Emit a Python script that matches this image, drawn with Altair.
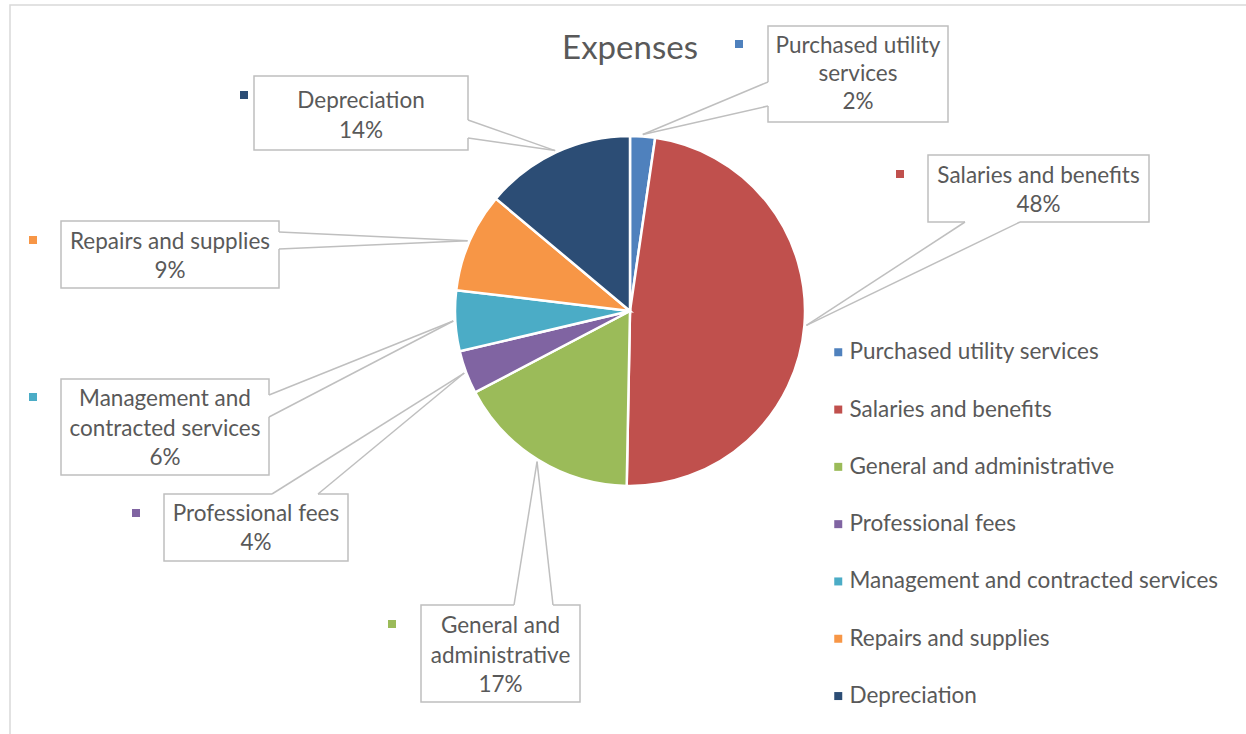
import math
import altair as alt
import pandas as pd

W, H = 1246, 734

# ---------------- data ----------------
categories = [
    "Purchased utility services",
    "Salaries and benefits",
    "General and administrative",
    "Professional fees",
    "Management and contracted services",
    "Repairs and supplies",
    "Depreciation",
]
shares = [2.3, 48.0, 17.0, 4.0, 5.6, 9.2, 13.9]
colors = ["#4F81BD", "#C0504D", "#9BBB59", "#8064A2", "#4BACC6", "#F79646", "#2C4D75"]

# ---------------- layout (positions only) ----------------
FONT = "Lato"
FS = 22.5
TXT = "#595959"
LINE = "#BFBFBF"
CX, CY, R = 630, 311, 175

# callout boxes: box (x0, y0, x1, y1), wedge base points, marker centre, text lines, line y's
callouts = {
    "Purchased utility services": dict(box=(768, 26, 948, 122), base=((768, 82), (768, 106)),
                                       marker=(739, 44), lines=["Purchased utility", "services"],
                                       ty=[46, 74, 102]),
    "Salaries and benefits": dict(box=(928, 155, 1149, 222), base=((965, 222), (1020, 222)),
                                  marker=(900, 174), lines=["Salaries and benefits"],
                                  ty=[176, 205]),
    "General and administrative": dict(box=(421, 605, 580, 702), base=((514, 605), (553, 605)),
                                       marker=(392, 624), lines=["General and", "administrative"],
                                       ty=[626, 656, 685]),
    "Professional fees": dict(box=(164, 494, 348, 561), base=((272, 494), (318, 494)),
                              marker=(136, 513), lines=["Professional fees"],
                              ty=[514, 543]),
    "Management and contracted services": dict(box=(61, 379, 269, 475), base=((269, 395), (269, 417)),
                                               marker=(33, 397), lines=["Management and", "contracted services"],
                                               ty=[399, 429, 458]),
    "Repairs and supplies": dict(box=(61, 221, 279, 288), base=((279, 232), (279, 249)),
                                 marker=(33, 240), lines=["Repairs and supplies"],
                                 ty=[242, 271]),
    "Depreciation": dict(box=(254, 76, 468, 150), base=((468, 120), (468, 138)),
                         marker=(244, 95), lines=["Depreciation"],
                         ty=[101, 131]),
}

# ---------------- derived tables ----------------
total = sum(shares)
pie_df = pd.DataFrame({"category": categories, "share": shares, "idx": range(len(categories))})

box_rows, cover_rows, wedge_rows, marker_rows, text_rows = [], [], [], [], []
cum = 0.0
for i, (cat, s) in enumerate(zip(categories, shares)):
    mid = (cum + s / 2) / total * 2 * math.pi
    cum += s
    tipx = CX + (R + 2) * math.sin(mid)
    tipy = CY - (R + 2) * math.cos(mid)
    c = callouts[cat]
    x0, y0, x1, y1 = c["box"]
    box_rows.append(dict(x=x0, x2=x1, y=y0, y2=y1))
    (ax, ay), (bx, by) = c["base"]
    cover_rows.append(dict(x=ax, y=ay, x2=bx, y2=by))
    wedge_rows.append(dict(x=ax, y=ay, x2=tipx, y2=tipy))
    wedge_rows.append(dict(x=bx, y=by, x2=tipx, y2=tipy))
    marker_rows.append(dict(x=c["marker"][0], y=c["marker"][1], category=cat))
    pct = f"{round(s / total * 100):.0f}%"
    for line, yy in zip(c["lines"] + [pct], c["ty"]):
        text_rows.append(dict(x=(x0 + x1) / 2, y=yy, t=line))

xs = alt.Scale(domain=[0, W], range=[0, W])
ys = alt.Scale(domain=[0, H], range=[0, H])
X = lambda f: alt.X(f, type="quantitative", scale=xs, axis=None)
Y = lambda f: alt.Y(f, type="quantitative", scale=ys, axis=None)

color_scale = alt.Scale(domain=categories, range=colors)

border = alt.Chart(pd.DataFrame({"a": [0]})).mark_rect(
    fill="white", stroke="#D9D9D9", strokeWidth=1.5
).encode(x=alt.value(10), x2=alt.value(1300), y=alt.value(5), y2=alt.value(800))

pie = alt.Chart(pie_df).mark_arc(outerRadius=R, stroke="white", strokeWidth=2.5).encode(
    theta=alt.Theta("share:Q", stack=True),
    order=alt.Order("idx:Q"),
    color=alt.Color(
        "category:N", scale=color_scale, sort=categories,
        legend=alt.Legend(
            title=None, orient="none", legendX=827, legendY=341,
            symbolType="square", symbolSize=64, symbolStrokeWidth=0,
            labelFont=FONT, labelFontSize=FS, labelColor=TXT, labelOffset=0,
            rowPadding=56.8 - FS, padding=0, labelLimit=500,
        ),
    ),
    x=alt.value(CX), y=alt.value(CY),
)

boxes = alt.Chart(pd.DataFrame(box_rows)).mark_rect(
    fill="white", stroke=LINE, strokeWidth=1.5
).encode(x=X("x"), x2="x2", y=Y("y"), y2="y2")

covers = alt.Chart(pd.DataFrame(cover_rows)).mark_rule(color="white", strokeWidth=3).encode(
    x=X("x"), x2="x2", y=Y("y"), y2="y2")

wedges = alt.Chart(pd.DataFrame(wedge_rows)).mark_rule(color=LINE, strokeWidth=1.5).encode(
    x=X("x"), x2="x2", y=Y("y"), y2="y2")

markers = alt.Chart(pd.DataFrame(marker_rows)).mark_square(size=64, opacity=1).encode(
    x=X("x"), y=Y("y"),
    color=alt.Color("category:N", scale=color_scale, sort=categories, legend=None))

texts = alt.Chart(pd.DataFrame(text_rows)).mark_text(
    font=FONT, fontSize=FS, color=TXT, align="center", baseline="middle"
).encode(x=X("x"), y=Y("y"), text="t:N")

title = alt.Chart(pd.DataFrame({"t": ["Expenses"]})).mark_text(
    font=FONT, fontSize=33, color=TXT, align="center", baseline="middle"
).encode(x=alt.value(630), y=alt.value(49), text="t:N")

chart = alt.layer(border, pie, boxes, covers, wedges, markers, texts, title).properties(
    width=W, height=H, padding=0, autosize=alt.AutoSizeParams(type="none"),
    background="white",
).configure_view(stroke=None)

chart.save("out.html", embed_options={"renderer": "svg", "actions": False})
